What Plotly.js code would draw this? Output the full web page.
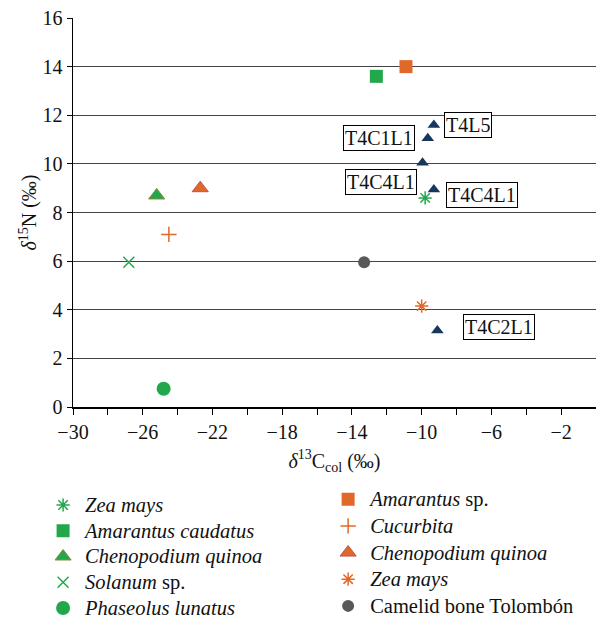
<!DOCTYPE html>
<html>
<head>
<meta charset="utf-8">
<script src="https://cdn.plot.ly/plotly-3.0.1.min.js"></script>
<style>html,body{margin:0;padding:0;background:#fff;}#chart{width:596px;height:618px;}</style>
</head>
<body>
<div id="chart"></div>
<script>
// ---- data ----
const zeaGreenX = [-9.8];   const zeaGreenY = [8.6];
const amaCaudX = [-12.6];   const amaCaudY = [13.6];
const chenoGreenX = [-25.2]; const chenoGreenY = [8.7];
const solanumX = [-26.8];   const solanumY = [5.95];
const phaseolusX = [-24.8]; const phaseolusY = [0.75];
const amaSpX = [-10.9];     const amaSpY = [14.0];
const cucurbitaX = [-24.5]; const cucurbitaY = [7.1];
const chenoOrangeX = [-22.7]; const chenoOrangeY = [9.0];
const zeaOrangeX = [-10.0]; const zeaOrangeY = [4.15];
const camelidX = [-13.3];   const camelidY = [5.95];
const sampleX = [-9.3, -9.65, -9.95, -9.3, -9.1];
const sampleY = [11.6, 11.05, 10.05, 8.95, 3.15];
const sampleLabels = ["T4L5", "T4C1L1", "T4C4L1", "T4C4L1", "T4C2L1"];
const legendNames = {
  zeaGreen: "<i>Zea mays</i>",
  amaCaud: "<i>Amarantus caudatus</i>",
  chenoGreen: "<i>Chenopodium quinoa</i>",
  solanum: "<i>Solanum</i> sp.",
  phaseolus: "<i>Phaseolus lunatus</i>",
  amaSp: "<i>Amarantus</i> sp.",
  cucurbita: "<i>Cucurbita</i>",
  chenoOrange: "<i>Chenopodium quinoa</i>",
  zeaOrange: "<i>Zea mays</i>",
  camelid: "Camelid bone Tolombón"
};
const xTicks = [-30, -26, -22, -18, -14, -10, -6, -2];
const yTicks = [0, 2, 4, 6, 8, 10, 12, 14, 16];

// ---- styles ----
const GREEN = "#22a84b", ORANGE = "#e0692a", NAVY = "#17375e", GRAY = "#595959";
const FONT = "Liberation Serif";
const big = s => '<span style="font-size:20.5px">' + s + '</span>';

function tr(x, y, name, marker, legend) {
  return {x: x, y: y, name: big(name), type: "scatter", mode: "markers", marker: marker,
          legend: legend, cliponaxis: false, hoverinfo: "skip"};
}

const data = [
  tr(zeaGreenX, zeaGreenY, legendNames.zeaGreen, {symbol: "asterisk-open", size: 11, color: GREEN, line: {color: GREEN, width: 1.5}}, "legend"),
  tr(amaCaudX, amaCaudY, legendNames.amaCaud, {symbol: "square", size: 13, color: GREEN}, "legend"),
  tr(chenoGreenX, chenoGreenY, legendNames.chenoGreen, {symbol: "triangle-up", size: 14, color: GREEN, line: {color: "#8c8a3e", width: 1}}, "legend"),
  tr(solanumX, solanumY, legendNames.solanum, {symbol: "x-thin-open", size: 11, color: GREEN, line: {color: GREEN, width: 1.5}}, "legend"),
  tr(phaseolusX, phaseolusY, legendNames.phaseolus, {symbol: "circle", size: 14, color: GREEN}, "legend"),
  tr(amaSpX, amaSpY, legendNames.amaSp, {symbol: "square", size: 13, color: ORANGE}, "legend2"),
  tr(cucurbitaX, cucurbitaY, legendNames.cucurbita, {symbol: "cross-thin-open", size: 11, color: ORANGE, line: {color: ORANGE, width: 1.5}}, "legend2"),
  tr(chenoOrangeX, chenoOrangeY, legendNames.chenoOrange, {symbol: "triangle-up", size: 14, color: ORANGE, line: {color: "#c0504d", width: 1}}, "legend2"),
  tr(zeaOrangeX, zeaOrangeY, legendNames.zeaOrange, {symbol: "asterisk-open", size: 11, color: ORANGE, line: {color: ORANGE, width: 1.5}}, "legend2"),
  tr(camelidX, camelidY, legendNames.camelid, {symbol: "circle", size: 12, color: GRAY}, "legend2"),
  Object.assign(tr(sampleX, sampleY, "samples", {symbol: "triangle-up", size: 11, color: NAVY}, "legend"), {showlegend: false})
];

const shifts = [[34, 0], [-49, 0], [-42, -19], [48, -6], [62, 3]];
const annotations = sampleLabels.map((t, i) => ({
  x: sampleX[i], y: sampleY[i], xref: "x", yref: "y", text: t, showarrow: false,
  xshift: shifts[i][0], yshift: shifts[i][1],
  font: {family: FONT, size: 20, color: "#111"},
  bordercolor: "#000", borderwidth: 1, borderpad: 1, bgcolor: "#fff"
}));

const layout = {
  width: 596, height: 618,
  margin: {l: 73, r: 0, t: 18, b: 211, autoexpand: false},
  paper_bgcolor: "#fff", plot_bgcolor: "#fff",
  font: {family: FONT, size: 20, color: "#111"},
  xaxis: {
    range: [-30, 0], tickmode: "array", tickvals: xTicks,
    ticktext: xTicks.map(v => "\u2212" + Math.abs(v)),
    ticks: "outside", ticklen: 6, tickcolor: "#000", tickwidth: 1,
    minor: {dtick: 2, tick0: -30, ticks: "outside", ticklen: 6, tickcolor: "#000", showgrid: false},
    showline: true, linecolor: "#000", linewidth: 1.5, showgrid: false, zeroline: false,
    tickfont: {family: FONT, size: 20},
    title: {text: "<i>δ</i><sup>13</sup>C<sub>col</sub> (‰)", font: {family: FONT, size: 20}, standoff: 12}
  },
  yaxis: {
    range: [0, 16], tickmode: "array", tickvals: yTicks,
    ticks: "outside", ticklen: 5, tickcolor: "#000",
    showline: true, linecolor: "#000", linewidth: 1.5,
    showgrid: true, gridcolor: "#444", gridwidth: 1, zeroline: false,
    tickfont: {family: FONT, size: 20},
    title: {text: "<i>δ</i><sup>15</sup>N (‰)", font: {family: FONT, size: 20}, standoff: 0}
  },
  legend: {x: -0.061, y: -0.206, xanchor: "left", yanchor: "top", bgcolor: "rgba(0,0,0,0)",
           font: {family: FONT, size: 17.5}, tracegroupgap: 0, itemwidth: 34},
  legend2: {x: 0.484, y: -0.19, xanchor: "left", yanchor: "top", bgcolor: "rgba(0,0,0,0)",
           font: {family: FONT, size: 18.2}, tracegroupgap: 0, itemwidth: 34},
  annotations: annotations,
  showlegend: true
};

Plotly.newPlot("chart", data, layout, {staticPlot: true});
</script>
</body>
</html>
